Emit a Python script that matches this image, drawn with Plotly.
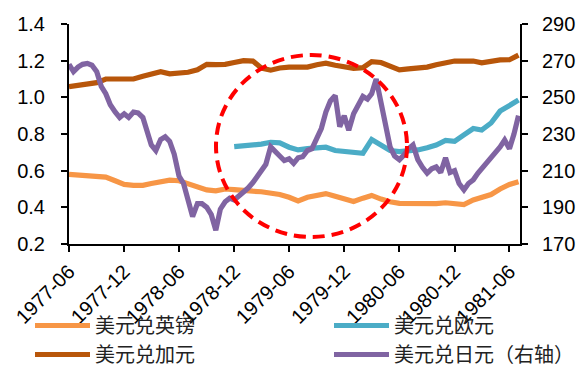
import pandas as pd
import plotly.graph_objects as go

# ---------------- data ----------------
month_dates = pd.date_range("1977-06-01", periods=50, freq="MS")

gbp = [0.580, 0.578, 0.575, 0.570, 0.565, 0.545, 0.525, 0.520, 0.520, 0.530,
       0.540, 0.548, 0.545, 0.530, 0.510, 0.495, 0.490, 0.500, 0.497, 0.490,
       0.488, 0.485, 0.480, 0.470, 0.455, 0.435, 0.455, 0.465, 0.475, 0.460,
       0.445, 0.432, 0.450, 0.465, 0.445, 0.430, 0.422, 0.422, 0.420, 0.417,
       0.420, 0.425, 0.420, 0.415, 0.440, 0.455, 0.470, 0.500, 0.525, 0.540]

cad = [1.058, 1.065, 1.072, 1.080, 1.100, 1.100, 1.093, 1.100, 1.115, 1.125,
       1.140, 1.128, 1.130, 1.137, 1.150, 1.180, 1.178, 1.180, 1.190, 1.200,
       1.198, 1.160, 1.148, 1.160, 1.165, 1.167, 1.165, 1.178, 1.186, 1.175,
       1.167, 1.158, 1.162, 1.195, 1.190, 1.170, 1.150, 1.155, 1.160, 1.165,
       1.178, 1.190, 1.198, 1.197, 1.198, 1.188, 1.198, 1.204, 1.205, 1.230]

eur_dates = month_dates[18:]
eur = [0.731, 0.735, 0.740, 0.745, 0.755, 0.752, 0.728, 0.713, 0.720, 0.722,
       0.728, 0.710, 0.704, 0.700, 0.695, 0.770, 0.740, 0.710, 0.704, 0.708,
       0.713, 0.725, 0.740, 0.765, 0.760, 0.795, 0.830, 0.822, 0.860, 0.925,
       0.955, 0.985]

half_dates = []
for d in month_dates:
    half_dates.append(d)
    half_dates.append(d + pd.Timedelta(days=15))
half_dates = half_dates[:99]

jpy = [268, 264, 266.5, 268, 268.5, 267.5, 264, 256, 252, 246,
       242, 239, 241, 239, 242, 241.5, 239, 232, 224, 221,
       227, 228.5, 226, 219, 207, 203, 194, 185, 192, 192,
       190, 186, 177.5, 189, 193, 195, 194, 196, 198, 200.5,
       203.5, 206.7, 210, 213.5, 223, 220, 218, 215.5, 216.5, 214,
       217, 217.6, 221, 222, 227, 233, 242, 248, 251, 234,
       240, 232, 241, 245, 250.5, 249, 252, 260, 248, 234,
       223, 218, 216, 218.5, 222, 224, 216, 212, 208.6, 211,
       212, 209, 217, 209, 210, 203, 199.5, 203, 205, 208.6,
       211, 213.5, 217, 220, 223, 226.7, 222, 230, 240]

names = ["美元兑英镑", "美元兑欧元", "美元兑加元", "美元兑日元（右轴）"]
colors = ["#F79646", "#4BACC6", "#B8560A", "#8064A2"]

# ---------------- figure ----------------
W, H = 580, 367
L, R, T, B = 69, 60, 24, 123
pw, ph = W - L - R, H - T - B

fig = go.Figure()
lw = 5.2
fig.add_trace(go.Scatter(x=month_dates, y=gbp, name=names[0], mode="lines",
                         legend="legend", line=dict(color=colors[0], width=lw)))
fig.add_trace(go.Scatter(x=eur_dates, y=eur, name=names[1], mode="lines",
                         legend="legend2", line=dict(color=colors[1], width=lw)))
fig.add_trace(go.Scatter(x=month_dates, y=cad, name=names[2], mode="lines",
                         legend="legend", line=dict(color=colors[2], width=lw)))
fig.add_trace(go.Scatter(x=half_dates, y=jpy, name=names[3], mode="lines",
                         legend="legend2", yaxis="y2",
                         line=dict(color=colors[3], width=lw)))

# red dashed circle (pixel -> paper)
cx0, cx1, cy0, cy1 = 216, 407, 55, 237
fig.add_shape(type="circle", xref="paper", yref="paper",
              x0=(cx0 - L) / pw, x1=(cx1 - L) / pw,
              y0=(H - B - cy1) / ph, y1=(H - B - cy0) / ph,
              line=dict(color="#FF0000", width=4, dash="12px,7px"),
              layer="above")

tickfont = dict(family="Liberation Sans, Arial", size=20, color="#000")
legfont = dict(family="Noto Sans CJK SC", size=20, color="#222")
leg_common = dict(orientation="v", xref="container", yref="container",
                  xanchor="left", yanchor="top", itemwidth=55,
                  tracegroupgap=0, font=legfont, bgcolor="rgba(0,0,0,0)",
                  borderwidth=0)
legend_top = 306
fig.update_layout(
    width=W, height=H,
    margin=dict(l=L, r=R, t=T, b=B, pad=0, autoexpand=False),
    paper_bgcolor="white", plot_bgcolor="white",
    showlegend=True,
    legend=dict(x=30 / W, y=1 - legend_top / H, **leg_common),
    legend2=dict(x=329 / W, y=1 - legend_top / H, **leg_common),
    xaxis=dict(type="date", range=["1977-06-01", "1981-07-06"],
               tick0="1977-06-01", dtick="M6", tickformat="%Y-%m",
               tickangle=-45, ticks="outside", ticklen=6, tickwidth=2,
               tickcolor="#000", showline=True, linecolor="#000", linewidth=2,
               showgrid=False, zeroline=False, tickfont=tickfont,
               automargin=False),
    yaxis=dict(range=[0.2, 1.4], dtick=0.2, tick0=0.2, tickformat=".1f",
               ticks="outside", ticklen=6, tickwidth=2, tickcolor="#000",
               showline=True, linecolor="#000", linewidth=2,
               showgrid=False, zeroline=False, tickfont=tickfont,
               ticklabelstandoff=12, automargin=False),
    yaxis2=dict(range=[170, 290], dtick=20, tick0=170, overlaying="y",
                side="right", ticks="outside", ticklen=6, tickwidth=2,
                tickcolor="#000", showline=True, linecolor="#000", linewidth=2,
                showgrid=False, zeroline=False, tickfont=tickfont,
                ticklabelstandoff=10, automargin=False),
)

fig.write_html("out.html")
